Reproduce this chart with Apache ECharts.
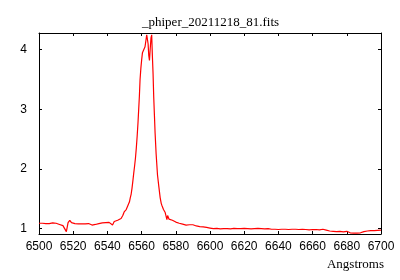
<!DOCTYPE html>
<html>
<head>
<meta charset="utf-8">
<script src="https://cdn.jsdelivr.net/npm/echarts@6/dist/echarts.min.js"></script>
<style>html,body{margin:0;padding:0;background:#fff}#c{width:400px;height:280px}</style>
</head>
<body>
<div id="c"></div>
<script>
const titleText = '_phiper_20211218_81.fits';
const xAxisName = 'Angstroms';
const xTicks = [6500, 6520, 6540, 6560, 6580, 6600, 6620, 6640, 6660, 6680, 6700];
const yTicks = [1, 2, 3, 4];

const wavelength = [
  6500,6501,6502,6503,6504,6505,6506,6507,6508,6509,6510,6511,6512,6513,6514,6515,6516,6517,6518,6519,
  6520,6521,6522,6523,6524,6525,6526,6527,6528,6529,6530,6531,6532,6533,6534,6535,6536,6537,6538,6539,
  6540,6541,6542,6543,6544,6545,6546,6547,6548,6549,6549.8,6550.5,6551,6551.75,6552.4,6552.9,6553.4,6553.9,
  6554.4,6554.9,6555.4,6555.9,6556.4,6556.9,6557.4,6557.9,6558.3,6558.7,6559.1,6559.6,6560.0,6560.5,6561.0,
  6561.5,6562.0,6562.5,6563.0,6563.4,6563.8,6564.2,6564.6,6565.0,6565.5,6565.9,6566.3,6566.7,6567.1,6567.5,
  6567.9,6568.5,6569.3,6570.1,6570.85,6571.5,6572.0,6572.8,6573.8,6574.5,6574.8,6575.2,6576,6577,6578,6579,
  6580,6581,6582,6583,6584,6585,6586,6587,6588,6589,6590,6591,6592,6593,6594,6595,6596,6597,6598,6599,
  6600,6602,6604,6606,6608,6610,6612,6614,6616,6618,6620,6622,6624,6626,6628,6630,6632,6634,6636,6638,
  6640,6642,6644,6646,6648,6650,6652,6654,6656,6658,6660,6662,6664,6666,6668,6670,6672,6674,6676,6678,
  6680,6682,6684,6686,6688,6690,6692,6694,6696,6698,6700
];
const flux = [
  1.09,1.085,1.09,1.08,1.085,1.08,1.085,1.09,1.095,1.09,1.09,1.085,1.07,1.09,1.05,1.08,0.95,1.10,1.14,1.10,
  1.09,1.085,1.08,1.08,1.07,1.08,1.085,1.08,1.08,1.085,1.08,1.06,1.085,1.07,1.09,1.085,1.09,1.095,1.10,1.10,
  1.10,1.105,1.11,1.06,1.12,1.11,1.14,1.15,1.17,1.22,1.28,1.31,1.32,1.37,1.40,1.45,1.52,1.58,
  1.68,1.80,1.93,2.05,2.18,2.35,2.55,2.78,3.00,3.22,3.50,3.70,3.82,3.95,3.96,
  3.98,4.05,4.15,4.25,4.22,4.10,3.90,3.82,4.00,4.20,4.25,3.90,3.60,3.20,2.90,
  2.60,2.25,1.90,1.70,1.52,1.42,1.38,1.32,1.27,1.25,1.15,1.22,1.16,1.17,1.14,1.13,
  1.11,1.10,1.09,1.085,1.075,1.07,1.06,1.055,1.065,1.07,1.065,1.05,1.045,1.04,1.035,1.04,1.03,1.025,1.02,1.02,
  1.01,1.0,1.005,0.995,1.0,1.0,0.995,1.005,1.0,1.0,1.005,1.0,0.995,1.0,1.005,1.0,0.995,1.0,0.99,0.99,
  0.985,0.99,0.99,0.985,0.99,0.99,0.985,0.99,0.985,0.98,0.985,0.985,0.98,0.99,0.975,0.96,0.955,0.95,0.955,0.945,
  0.955,0.93,0.925,0.925,0.93,0.95,0.96,0.965,0.965,0.97,0.975
];

const seriesData = wavelength.map((w, i) => [w, flux[i]]);
const chart = echarts.init(document.getElementById('c'), null, {renderer: 'canvas'});
const lab = {color: '#000', fontFamily: 'Liberation Sans', fontSize: 12, formatter: v => String(v)};
const line = {show: true, onZero: false, lineStyle: {color: '#000', width: 1}};
const tick = {show: true, inside: true, length: 3, lineStyle: {color: '#000', width: 1}};
chart.setOption({
  animation: false,
  title: [
    {text: titleText, left: 137, top: 11, textStyle: {fontFamily: 'Liberation Serif', fontSize: 13, fontWeight: 'normal', color: '#000'}},
    {text: xAxisName, right: 11, top: 253, textStyle: {fontFamily: 'Liberation Serif', fontSize: 13, fontWeight: 'normal', color: '#000'}}
  ],
  grid: {left: 39, right: 19, top: 33, bottom: 46, containLabel: false, outerBoundsMode: 'none'},
  xAxis: [
    {type: 'value', position: 'bottom', min: 6500, max: 6700, interval: 20,
     axisLine: line, axisTick: Object.assign({}, tick, {customValues: xTicks}),
     axisLabel: Object.assign({}, lab, {margin: 7, customValues: xTicks}), splitLine: {show: false}},
    {type: 'value', position: 'top', min: 6500, max: 6700, interval: 20,
     axisLine: line, axisTick: Object.assign({}, tick, {customValues: xTicks}),
     axisLabel: {show: false}, splitLine: {show: false}}
  ],
  yAxis: [
    {type: 'value', position: 'left', min: 0.91, max: 4.28,
     axisLine: line, axisTick: Object.assign({}, tick, {customValues: yTicks}),
     axisLabel: Object.assign({}, lab, {margin: 12, customValues: yTicks}), splitLine: {show: false}},
    {type: 'value', position: 'right', min: 0.91, max: 4.28,
     axisLine: line, axisTick: Object.assign({}, tick, {customValues: yTicks}),
     axisLabel: {show: false}, splitLine: {show: false}}
  ],
  series: [{
    type: 'line', data: seriesData, xAxisIndex: 0, yAxisIndex: 0,
    showSymbol: false, symbol: 'none',
    lineStyle: {color: '#ff0000', width: 1.2}
  }]
});
</script>
</body>
</html>
